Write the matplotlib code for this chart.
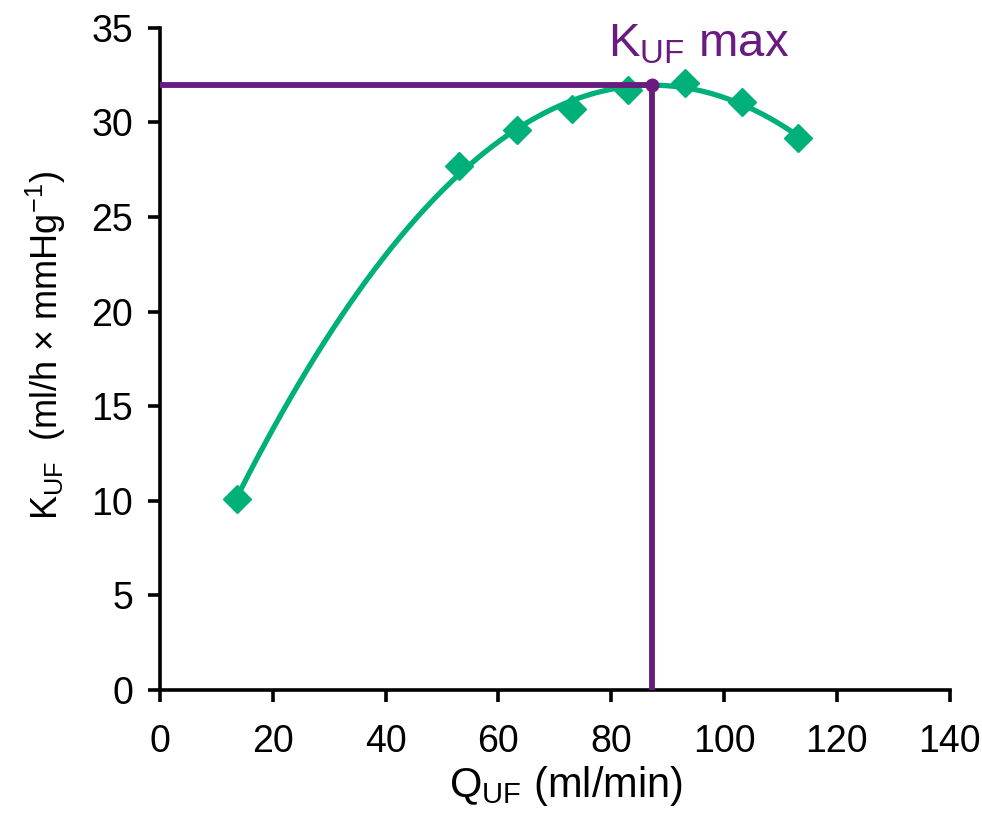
import numpy as np
import matplotlib.pyplot as plt

plt.rcParams['font.family'] = ['Liberation Sans', 'DejaVu Sans']
plt.rcParams['mathtext.fontset'] = 'custom'
plt.rcParams['mathtext.rm'] = 'Liberation Sans'

# measured points
q_uf = [13.6, 53.0, 63.3, 73.0, 83.0, 93.1, 103.2, 113.1]
k_uf = [10.1, 27.7, 29.6, 30.7, 31.7, 32.1, 31.1, 29.2]

# K_UF max reading
q_max = 87.3
k_max = 32.0

green = '#00b07b'
purple = '#6a1b7f'

fig = plt.figure(figsize=(9.82, 8.19), dpi=100)
ax = fig.add_axes([0.163, 0.1575, 0.804, 0.8085])

# polynomial trend line through the points
coef = np.polyfit(q_uf, k_uf, 2)
xs = np.linspace(min(q_uf), max(q_uf), 200)
ax.plot(xs, np.polyval(coef, xs), color=green, lw=3.8, zorder=3)
ax.plot(q_uf, k_uf, 'D', color=green, ms=14, mec=green, zorder=4)

ax.plot([0, q_max], [k_max, k_max], color=purple, lw=4.2, zorder=5, solid_capstyle='butt')
ax.plot([q_max, q_max], [0, k_max], color=purple, lw=4.2, zorder=5, solid_capstyle='butt')
ax.plot([q_max], [k_max], 'o', color=purple, ms=9, zorder=6)

ax.text(95.5, 33.5, r'K$_{\mathregular{UF}}$ max', color=purple, fontsize=34,
        ha='center', va='baseline', clip_on=False)

ax.set_xlim(0, 140)
ax.set_ylim(0, 35)
ax.set_xticks(np.arange(0, 141, 20))
ax.set_yticks(np.arange(0, 36, 5))

for s in ['top', 'right']:
    ax.spines[s].set_visible(False)
for s in ['left', 'bottom']:
    ax.spines[s].set_linewidth(2.6)
ax.tick_params(direction='out', length=8.5, width=2.6, labelsize=27)
ax.tick_params(axis='x', pad=16)
ax.tick_params(axis='y', pad=11)

ax.set_xlabel(r'Q$_{\mathregular{UF}}$ (ml/min)', fontsize=30)
ax.set_ylabel(r'K$_{\mathregular{UF}}$  (ml/h × mmHg$^{\mathregular{-1}}$)', fontsize=26)
ax.xaxis.set_label_coords(0.514, -0.112)
ax.yaxis.set_label_coords(-0.116, 0.52)

fig.savefig('out.png', dpi=100)
